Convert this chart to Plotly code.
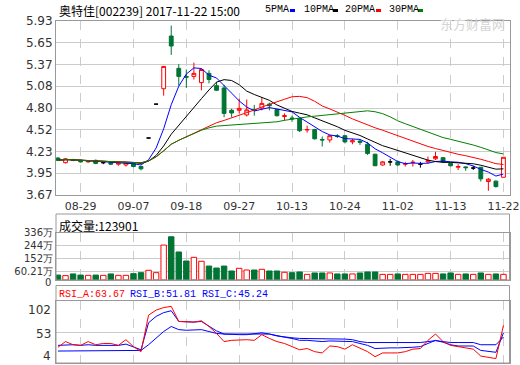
import plotly.graph_objects as go
import pandas as pd

# ---------------- data ----------------
dates = ["08-24", "08-25", "08-28", "08-29", "08-30", "08-31", "09-01", "09-04", "09-05", "09-06",
         "09-07", "09-08", "09-11", "09-12", "09-13", "09-14", "09-15", "09-18", "09-19", "09-20",
         "09-21", "09-22", "09-25", "09-26", "09-27", "09-28", "09-29", "10-09", "10-10", "10-11",
         "10-12", "10-13", "10-16", "10-17", "10-18", "10-19", "10-20", "10-23", "10-24", "10-25",
         "10-26", "10-27", "10-30", "10-31", "11-01", "11-02", "11-03", "11-06", "11-07", "11-08",
         "11-09", "11-10", "11-13", "11-14", "11-15", "11-16", "11-17", "11-20", "11-21", "11-22"]

open_ = [4.15, 4.09, 4.13, 4.12, 4.10, 4.12, 4.09, 4.09, 4.07, 4.06,
         4.08, 4.04, 4.41, 4.85, 5.05, 5.735, 5.315, 5.21, 5.21, 5.13,
         5.25, 5.09, 5.06, 4.77, 4.77, 4.71, 4.78, 4.80, 4.85, 4.78,
         4.69, 4.67, 4.665, 4.515, 4.52, 4.39, 4.385, 4.44, 4.44, 4.36,
         4.37, 4.33, 4.20, 4.06, 4.10, 4.10, 4.07, 4.09, 4.07, 4.10,
         4.14, 4.155, 4.08, 4.03, 4.035, 4.02, 4.03, 3.845, 3.85, 3.90]
high = [4.16, 4.15, 4.14, 4.13, 4.12, 4.13, 4.10, 4.10, 4.10, 4.10,
        4.09, 4.05, 4.41, 4.85, 5.34, 5.87, 5.37, 5.30, 5.39, 5.31,
        5.29, 5.14, 5.10, 4.79, 4.92, 4.91, 4.84, 4.94, 4.87, 4.79,
        4.73, 4.70, 4.68, 4.57, 4.53, 4.43, 4.45, 4.46, 4.45, 4.40,
        4.39, 4.36, 4.205, 4.11, 4.14, 4.12, 4.10, 4.125, 4.10, 4.17,
        4.23, 4.16, 4.09, 4.07, 4.04, 4.05, 4.035, 3.89, 3.86, 4.16]
low = [4.11, 4.08, 4.11, 4.09, 4.09, 4.07, 4.07, 4.06, 4.05, 4.04,
       4.03, 3.99, 4.41, 4.85, 4.96, 5.49, 5.09, 5.06, 5.17, 5.03,
       5.12, 5.02, 4.68, 4.68, 4.73, 4.69, 4.70, 4.77, 4.77, 4.69,
       4.64, 4.62, 4.49, 4.48, 4.39, 4.30, 4.35, 4.41, 4.34, 4.33,
       4.32, 4.19, 4.045, 4.05, 4.05, 4.05, 4.04, 4.04, 4.025, 4.08,
       4.125, 4.09, 4.04, 3.995, 3.985, 3.995, 3.845, 3.725, 3.765, 3.90]
close = [4.12, 4.14, 4.12, 4.10, 4.11, 4.08, 4.09, 4.07, 4.09, 4.09,
         4.04, 4.01, 4.41, 4.85, 5.34, 5.605, 5.21, 5.20, 5.25, 5.30,
         5.17, 5.03, 4.73, 4.735, 4.795, 4.775, 4.77, 4.86, 4.83, 4.70,
         4.70, 4.66, 4.505, 4.52, 4.40, 4.385, 4.44, 4.43, 4.36, 4.375,
         4.355, 4.21, 4.05, 4.10, 4.10, 4.06, 4.075, 4.095, 4.07, 4.115,
         4.17, 4.10, 4.05, 4.04, 4.025, 4.02, 3.88, 3.875, 3.78, 4.16]

# volume, in 万
volume = [35, 31, 43, 35, 33, 35, 33, 43, 33, 33,
          45, 52, 69, 52, 248, 307, 199, 135, 161, 133,
          99, 85, 99, 64, 83, 71, 71, 76, 64, 64,
          55, 52, 57, 40, 50, 50, 50, 43, 43, 43,
          50, 57, 57, 40, 40, 43, 40, 40, 40, 47,
          47, 43, 50, 40, 43, 40, 50, 40, 43, 40]

# RSI lines as drawn
rsi_a = [29, 38, 33, 32, 38, 33, 35, 35, 32, 41,
         30, 22, 80, 88, 92, 94, 70, 69, 69, 71,
         62, 51, 38, 40, 41, 41, 40, 49, 43, 38,
         35, 30, 25, 27, 22, 20, 31, 30, 26, 33,
         28, 22, 14, 20, 20, 20, 22, 26, 27, 40,
         50, 38, 32, 30, 27, 26, 15, 13, 11, 63.67]
rsi_b = [32, 33, 33, 32, 33, 32, 32, 33, 32, 34,
         30, 25, 68, 78, 84, 87, 70, 69, 69, 70,
         63, 55, 50, 49, 49, 49, 50, 52, 50, 47,
         45, 43, 40, 40, 39, 38, 39, 39, 38, 38,
         35, 32, 27, 28, 28, 28, 28, 29, 30, 35,
         40, 37, 33, 31, 31, 31, 24, 23, 21, 51.81]
rsi_c = [23, 23, 23, 23, 23, 23, 23, 23, 24, 24,
         24, 24, 33, 44, 54, 62, 57, 56, 56, 57,
         54, 51, 50, 50, 50, 50, 51, 51, 50, 47,
         45, 44, 43, 43, 42, 42, 42, 42, 42, 41,
         38, 36.5, 36.5, 36.5, 36.5, 36.5, 36.5, 36.5, 36.5, 38,
         39.5, 38, 36.5, 36.5, 36.5, 36.5, 33, 33, 33, 45.24]

x_tick_dates = ["08-29", "09-07", "09-18", "09-27", "10-13", "10-24", "11-02", "11-13", "11-22"]
price_ticks = [3.67 + k * 0.2825 for k in range(9)]
price_labels = ["3.67", "3.95", "4.23", "4.52", "4.80", "5.08", "5.37", "5.65", "5.93"]
vol_ticks = [0, 60.21, 152, 244, 336]
vol_labels = ["0", "60.21万", "152万", "244万", "336万"]
rsi_labels = ["102", "53", "4"]
ma_periods = [5, 10, 20, 30]
ma_names = ["5PMA", "10PMA", "20PMA", "30PMA"]
ma_colors = ["#0000ff", "#000000", "#ff0000", "#008000"]
rsi_texts = ["RSI_A:63.67", "RSI_B:51.81", "RSI_C:45.24"]
rsi_colors = ["#ff0000", "#0000ff", "#0000ff"]

# ---------------- figure ----------------
RED = "#ff0000"
GREEN = "#007434"
W, H = 520, 365
cs = pd.Series(close)

def px(xp):
    return xp / W

def py(yp):
    return 1 - yp / H

fig = go.Figure()

def subset(mask):
    return ([d for d, m in zip(dates, mask) if m],
            [v for v, m in zip(open_, mask) if m],
            [v for v, m in zip(high, mask) if m],
            [v for v, m in zip(low, mask) if m],
            [v for v, m in zip(close, mask) if m])

groups = [
    ([c > o for o, c in zip(open_, close)], RED, "white"),
    ([c < o for o, c in zip(open_, close)], GREEN, GREEN),
    ([c == o for o, c in zip(open_, close)], "#000000", "#000000"),
]
for mask, lc, fc in groups:
    xd, o, h, l, c = subset(mask)
    fig.add_trace(go.Candlestick(
        x=xd, open=o, high=h, low=l, close=c,
        increasing=dict(line=dict(color=lc, width=1), fillcolor=fc),
        decreasing=dict(line=dict(color=lc, width=1), fillcolor=fc),
        whiskerwidth=0, hoverinfo="skip", xaxis="x", yaxis="y"))

for n, col in zip(ma_periods, ma_colors):
    fig.add_trace(go.Scatter(x=dates, y=cs.rolling(n, min_periods=1).mean(),
                             mode="lines", line=dict(color=col, width=1),
                             hoverinfo="skip", xaxis="x", yaxis="y"))

up = [c >= o for o, c in zip(open_, close)]
fig.add_trace(go.Bar(x=dates, y=volume,
                     marker=dict(color=["white" if u else GREEN for u in up],
                                 line=dict(color=[RED if u else GREEN for u in up], width=1)),
                     width=0.72, hoverinfo="skip", xaxis="x2", yaxis="y2"))

for series, col in zip([rsi_c, rsi_b, rsi_a], [rsi_colors[2], rsi_colors[1], rsi_colors[0]]):
    fig.add_trace(go.Scatter(x=dates, y=series, mode="lines", line=dict(color=col, width=1),
                             hoverinfo="skip", xaxis="x3", yaxis="y3"))

xdom = [px(56), px(509.5)]
xcommon = dict(domain=xdom, type="category", categoryorder="array", categoryarray=dates,
               range=[-0.26, 59.8], showgrid=True, gridcolor="#cccccc", griddash="dash",
               gridwidth=1, tickvals=x_tick_dates, showline=True, linecolor="#999999",
               mirror=True, zeroline=False, fixedrange=True, automargin=False,
               rangeslider=dict(visible=False))
tickfont = dict(family="DejaVu Sans", size=12, color="#333333")
volfont = dict(family="DejaVu Sans", size=10, color="#333333")

fig.update_layout(
    width=W, height=H, margin=dict(l=0, r=0, t=0, b=0, autoexpand=False),
    paper_bgcolor="white", plot_bgcolor="white", showlegend=False, boxgap=0.28,
    xaxis=dict(**xcommon, anchor="y", ticktext=x_tick_dates, showticklabels=True,
               ticks="outside", ticklen=1, tickcolor="white",
               tickfont=dict(family="DejaVu Sans", size=11, color="#333333")),
    yaxis=dict(domain=[py(195), py(21)], range=[3.67, 5.93], tickvals=price_ticks,
               ticktext=price_labels, showgrid=True, gridcolor="#cccccc", showline=True,
               linecolor="#999999", mirror=True, zeroline=False, tickfont=tickfont,
               ticks="", anchor="x", automargin=False, fixedrange=True),
    xaxis2=dict(**xcommon, anchor="y2", showticklabels=False),
    # the "0" label is placed as an annotation just below so it does not collide
    yaxis2=dict(domain=[py(280), py(232.7)], range=[0, 336], tickvals=vol_ticks,
                ticktext=[""] + vol_labels[1:], showgrid=True, gridcolor="#cccccc",
                showline=True, linecolor="#999999", mirror=True, zeroline=False,
                tickfont=volfont, ticks="", anchor="x2", automargin=False, fixedrange=True),
    xaxis3=dict(**xcommon, anchor="y3", showticklabels=False),
    yaxis3=dict(domain=[py(363), py(301.3)], range=[4, 102], tickvals=[53],
                showticklabels=False, showgrid=True, gridcolor="#cccccc", showline=True,
                linecolor="#999999", mirror=True, zeroline=False, anchor="x3",
                automargin=False, fixedrange=True),
)

shapes = []
for top, bot in [(214, 280), (285.5, 363)]:
    shapes.append(dict(type="rect", xref="paper", yref="paper", x0=px(56), x1=px(509.5),
                       y0=py(bot), y1=py(top), line=dict(color="#999999", width=1)))
for xk, col in zip([290, 333, 376, 418], ma_colors):
    shapes.append(dict(type="rect", xref="paper", yref="paper", x0=px(xk), x1=px(xk + 5),
                       y0=py(12), y1=py(9), line=dict(width=0), fillcolor=col))
fig.update_layout(shapes=shapes)

ann = []
mono = "Liberation Mono, Noto Sans CJK SC"
ann.append(dict(text="奥特佳[002239] 2017-11-22 15:00", x=px(57), y=py(10), xref="paper",
                yref="paper", xanchor="left", yanchor="middle", showarrow=False,
                font=dict(family="Noto Sans CJK SC", size=12, color="#000000")))
for xt, name in zip([263, 302, 343, 387], ma_names):
    ann.append(dict(text=name, x=px(xt), y=py(9.5), xref="paper", yref="paper",
                    xanchor="left", yanchor="middle", showarrow=False,
                    font=dict(family=mono, size=10, color="#000000")))
ann.append(dict(text="东方财富网", x=px(472), y=py(24), xref="paper", yref="paper",
                xanchor="center", yanchor="middle", showarrow=False,
                font=dict(family="Noto Sans CJK SC", size=13, color="#d4d4d4")))
ann.append(dict(text="成交量:123901", x=px(57), y=py(225), xref="paper", yref="paper",
                xanchor="left", yanchor="middle", showarrow=False,
                font=dict(family="Noto Sans CJK SC", size=12, color="#000000")))
ann.append(dict(text=vol_labels[0], x=px(53), y=py(282), xref="paper", yref="paper",
                xanchor="right", yanchor="middle", showarrow=False, font=volfont))
for xt, t, col in zip([57, 128, 200], rsi_texts, rsi_colors):
    ann.append(dict(text=t, x=px(xt), y=py(294), xref="paper", yref="paper",
                    xanchor="left", yanchor="middle", showarrow=False,
                    font=dict(family=mono, size=10, color=col)))
for yl, t in zip([309.5, 333.7, 356], rsi_labels):
    ann.append(dict(text=t, x=px(53), y=py(yl), xref="paper", yref="paper",
                    xanchor="right", yanchor="middle", showarrow=False,
                    font=tickfont))
fig.update_layout(annotations=ann)

# the page body has a default 8px margin; remove it so the figure sits at the window origin
fig.write_html("out.html", config={"displayModeBar": False},
               post_script="document.body.style.margin='0';")
